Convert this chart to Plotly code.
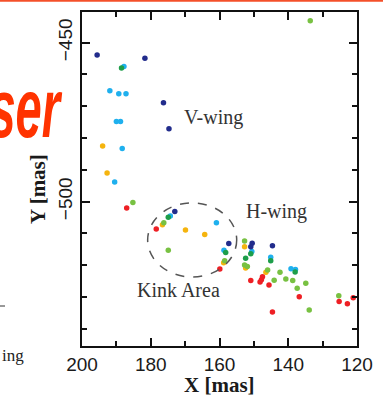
import plotly.graph_objects as go

# ---- data (X, Y in mas) ----
navy_x = [195.6, 181.7, 176.3, 174.7, 173.0, 157.3, 150.5, 150.9, 144.6]
navy_y = [-453.9, -454.9, -468.9, -477.1, -503.1, -513.2, -513.1, -514.2, -513.9]

green_x = [188.5, 174.9, 158.2, 150.9, 152.4, 145.1, 138.0]
green_y = [-458.0, -504.9, -516.0, -516.4, -517.8, -518.6, -522.1]

cyan_x = [187.8, 191.9, 189.3, 187.2, 190.0, 188.8, 188.3, 190.5, 174.3, 160.9, 158.7, 150.6, 145.1, 139.2, 137.9]
cyan_y = [-457.5, -465.1, -466.1, -466.1, -474.8, -474.8, -483.3, -493.8, -504.5, -506.6, -515.3, -515.7, -517.5, -521.1, -521.3]

orange_x = [194.0, 192.7, 176.6, 169.9, 164.3, 158.8, 152.7, 152.4, 146.5]
orange_y = [-482.5, -491.0, -507.3, -508.9, -510.3, -519.2, -514.2, -520.9, -522.2]

red_x = [187.0, 178.4, 159.9, 150.9, 147.5, 147.8, 148.2, 145.6, 136.8, 144.6, 125.2, 122.8, 121.1]
red_y = [-502.0, -508.6, -521.2, -524.8, -523.6, -524.6, -525.3, -526.2, -529.9, -534.7, -531.4, -532.1, -530.2]

lime_x = [185.2, 176.2, 174.9, 158.5, 152.7, 152.7, 151.9, 146.0, 142.4, 144.1, 140.7, 138.7, 134.9, 137.4, 133.9, 125.3, 133.6]
lime_y = [-500.3, -506.6, -515.3, -518.6, -512.4, -519.9, -520.4, -521.5, -522.2, -524.7, -524.3, -524.8, -525.7, -527.2, -534.1, -529.6, -443.1]

x_ticks = [200, 180, 160, 140, 120]
y_ticks = [-450, -500]

series = [
    (cyan_x, cyan_y, "#1fb0ee"),
    (orange_x, orange_y, "#f5b40e"),
    (lime_x, lime_y, "#78c142"),
    (red_x, red_y, "#ee1f24"),
    (green_x, green_y, "#1d9e4a"),
    (navy_x, navy_y, "#222c8c"),
]

L, T, W, H = 82, 12, 275, 334
FIG_W, FIG_H = 383, 396


def px(xp):
    return (xp - L) / W


def py(yp):
    return (T + H - yp) / H


fig = go.Figure()
for xs, ys, col in series:
    fig.add_trace(go.Scatter(x=xs, y=ys, mode="markers",
                             marker=dict(size=5.5, color=col, line=dict(width=0)),
                             showlegend=False, hoverinfo="skip"))

axis_common = dict(
    automargin=False,
    showline=True, linecolor="#111", linewidth=2, mirror="allticks",
    ticks="inside", ticklen=8, tickwidth=2, tickcolor="#111",
    showgrid=False, zeroline=False,
    tickfont=dict(family="Liberation Sans, Arial, sans-serif", size=19, color="#1a1a1a"),
)

fig.update_xaxes(range=[200, 120], tickvals=x_ticks,
                 minor=dict(ticks="inside", ticklen=5, tickwidth=2, tickcolor="#111", dtick=10, tick0=0),
                 **axis_common)
fig.update_yaxes(range=[-545.4, -440.35], tickvals=y_ticks, tickangle=-90,
                 minor=dict(ticks="inside", ticklen=5, tickwidth=2, tickcolor="#111", dtick=10, tick0=0),
                 **axis_common)

serif = "Liberation Serif, Times New Roman, serif"

# dashed "Kink Area" ellipse
fig.add_shape(type="circle", xref="x", yref="y", x0=180.9, x1=155.0, y0=-523.7, y1=-500.4,
              line=dict(color="#555", width=1.5, dash="dash"))

annots = [
    dict(text="V-wing", x=161.7, y=-473.4, xref="x", yref="y"),
    dict(text="H-wing", x=143.3, y=-503.2, xref="x", yref="y"),
    dict(text="Kink Area", x=171.9, y=-527.8, xref="x", yref="y"),
]
for a in annots:
    fig.add_annotation(showarrow=False, font=dict(family=serif, size=20, color="#333"), **a)

# axis titles
fig.add_annotation(text="<b>X [mas]</b>", xref="paper", yref="paper", x=0.5, y=py(384.5),
                   xanchor="center", yanchor="middle",
                   showarrow=False, font=dict(family=serif, size=21, color="#1a1a1a"))
fig.add_annotation(text="<b>Y [mas]</b>", xref="paper", yref="paper", x=px(38), y=py(189),
                   xanchor="center", yanchor="middle",
                   textangle=-90, showarrow=False, font=dict(family=serif, size=21, color="#1a1a1a"))

# slide fragments around the figure
fig.add_annotation(text="<b><i>ser</i></b>", xref="paper", yref="paper", x=px(64), y=py(108),
                   xanchor="right", yanchor="middle", showarrow=False,
                   font=dict(family="Liberation Sans, Arial, sans-serif", size=84, color="#ff3300"))
fig.add_annotation(text="ing", xref="paper", yref="paper", x=px(0), y=py(355),
                   xanchor="left", yanchor="middle", showarrow=False,
                   font=dict(family=serif, size=17, color="#222"))
fig.add_shape(type="line", xref="paper", yref="paper", x0=px(0), x1=px(5), y0=py(306), y1=py(306),
              line=dict(color="#333", width=1))
fig.add_shape(type="line", xref="paper", yref="paper", x0=px(0), x1=px(FIG_W), y0=py(0.8), y1=py(0.8),
              line=dict(color="#f4502a", width=2))

fig.update_layout(width=FIG_W, height=FIG_H, margin=dict(l=L, r=FIG_W - L - W, t=T, b=FIG_H - T - H),
                  paper_bgcolor="white", plot_bgcolor="white")

post = """
document.body.style.margin='0';
document.body.style.overflow='hidden';
document.querySelectorAll('text.annotation-text').forEach(function(t){
  if (t.textContent === 'ser') {
    t.style.transformBox = 'fill-box';
    t.style.transformOrigin = 'right center';
    t.style.transform = 'scaleX(0.56)';
  }
});
"""

fig.write_html("out.html", config={"displayModeBar": False}, post_script=post)
